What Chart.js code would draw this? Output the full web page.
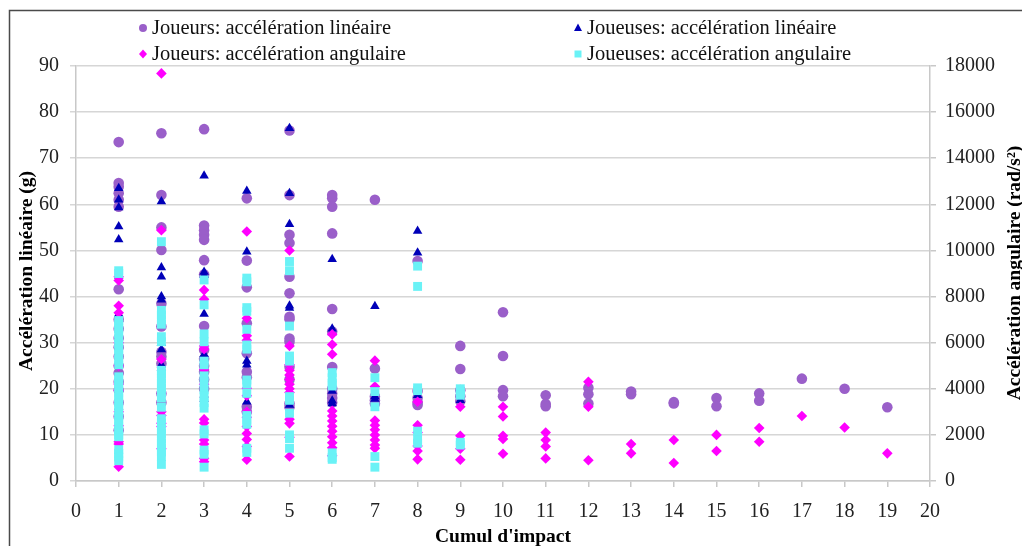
<!DOCTYPE html>
<html>
<head>
<meta charset="utf-8">
<script src="https://cdn.jsdelivr.net/npm/chart.js@4.4.1/dist/chart.umd.min.js"></script>
<style>
  html, body { margin: 0; padding: 0; background: #ffffff; }
  #wrap { position: relative; width: 1022px; height: 546px; }
</style>
</head>
<body>
<div id="wrap"><canvas id="c" width="1022" height="546"></canvas></div>
<script>
// Categories: cumul d'impact (x values), one inner array per category
const cumulImpact = [1, 2, 3, 4, 5, 6, 7, 8, 9, 10, 11, 12, 13, 14, 15, 16, 17, 18, 19];

// Joueurs: accélération linéaire (g)
const joueursLineaire = [
  [73.5, 64.6, 63.8, 62.4, 61, 59.5, 41.6, 35, 33, 31, 29, 27, 25, 23.4, 21.5, 19.7, 17, 14, 11],
  [75.4, 62.0, 55.0, 50.1, 38.5, 33.5, 28, 27, 25.5, 19, 17],
  [76.3, 55.4, 54.4, 53.4, 52.3, 47.9, 44.8, 33.6, 28.4, 26.5, 25.0, 23.7, 22, 20],
  [61.3, 47.8, 42.0, 34.2, 27.7, 23.7, 22.5, 16.1, 15],
  [76.0, 62.0, 53.4, 51.6, 44.3, 40.7, 35.6, 35.1, 30.9, 30.2, 24.8, 22, 16.8, 16],
  [62.0, 61.3, 59.5, 53.7, 37.3, 32.4, 24.7, 20, 19, 18, 17],
  [61.0, 24.4, 18.3, 17.5, 16.8],
  [47.7, 19.5, 18.0, 17.0, 16.5],
  [29.3, 24.3, 19.7, 18.4, 17.3],
  [36.6, 27.1, 19.7, 18.4],
  [18.6, 16.7, 16.2],
  [20.2, 18.8, 16.8],
  [19.4, 18.8],
  [17.1, 16.8],
  [18.0, 16.2],
  [19.0, 17.4],
  [22.2],
  [20.0],
  [16.0]
];

// Joueuses: accélération linéaire (g)
const joueusesLineaire = [
  [63.5, 61.0, 59.3, 55.2, 52.4, 44.5, 36.2, 35.2, 20, 16],
  [60.6, 46.3, 44.3, 40.0, 39.3, 29.9, 28.5, 25.2, 24.5],
  [66.2, 45.3, 44.6, 36.2, 27.5, 18.7, 17.8],
  [62.9, 49.7, 26.0, 25.2, 17.2],
  [76.5, 62.4, 55.7, 38.0, 37.5, 17.2, 16.5],
  [48.1, 33.0, 32.2, 19.5, 17.4, 16.8],
  [37.9, 18.3, 17.8],
  [54.2, 49.5, 18.6],
  [17.5],
  [], [], [], [], [], [], [], [], [], []
];

// Joueurs: accélération angulaire (rad/s²)
const joueursAngulaire = [
  [8860, 8700, 7600, 7300, 6000, 5000, 4200, 3940, 3000, 2400, 1700, 1600, 620],
  [17680, 10880, 5280, 3000, 2840, 2500, 2360, 1400],
  [8280, 7880, 5860, 5720, 4840, 4200, 2680, 2520, 1780, 1600, 980, 840],
  [10820, 7060, 6300, 6100, 4020, 3700, 3000, 2760, 2360, 2060, 1800, 1500, 920],
  [10000, 5860, 5040, 4800, 4600, 4400, 4200, 4000, 3840, 2680, 2500, 1900, 1060],
  [6360, 5920, 5500, 3040, 2820, 2600, 2380, 2160, 1920, 1660, 1440, 1100],
  [5220, 4100, 2620, 2420, 2220, 2000, 1780, 1560, 1420],
  [3440, 2420, 2100, 1520, 1300, 940],
  [3220, 1960, 1400, 920],
  [3220, 2800, 1960, 1820, 1180],
  [2100, 1780, 1500, 980],
  [4300, 3220, 900],
  [1600, 1200],
  [1780, 780],
  [2000, 1300],
  [2300, 1700],
  [2820],
  [2320],
  [1200]
];

// Joueuses: accélération angulaire (rad/s²)
const joueusesAngulaire = [
  [9120, 9000, 6960, 6800, 6600, 6400, 6160, 5960, 5720, 5500, 5260, 5040, 4520, 4360, 4200, 4040, 3800, 3600, 3400, 3200, 3000, 2800, 2600, 2400, 2200, 2000, 1920, 1360, 1200, 1040, 880],
  [10380, 7400, 7200, 7000, 6800, 6260, 6040, 4800, 4640, 4440, 4240, 4040, 3840, 3600, 3200, 2700, 2500, 2240, 2060, 1840, 1640, 1440, 1260, 1060, 720],
  [8720, 7640, 6380, 6040, 5200, 5040, 4560, 4300, 3960, 3680, 3400, 3160, 2220, 2040, 1340, 1160, 600],
  [8800, 8640, 7520, 7360, 6580, 5900, 5720, 4380, 4200, 3800, 2840, 2640, 2460, 1420, 1240],
  [9520, 9120, 6720, 5420, 5200, 3660, 3500, 2940, 2000, 1840, 1420],
  [4700, 4480, 4240, 4120, 1220, 1020, 940],
  [4480, 3880, 3220, 1060, 600],
  [9320, 8440, 4040, 3920, 2160, 1800, 1640],
  [4000, 3840, 3720, 1680, 1560],
  [], [], [], [], [], [], [], [], [], []
];

// Axis tick labels
const leftTicks = [0, 10, 20, 30, 40, 50, 60, 70, 80, 90];
const rightTicks = [0, 2000, 4000, 6000, 8000, 10000, 12000, 14000, 16000, 18000];
const xTicks = [0, 1, 2, 3, 4, 5, 6, 7, 8, 9, 10, 11, 12, 13, 14, 15, 16, 17, 18, 19, 20];

const seriesNames = [
  'Joueurs: accélération linéaire',
  'Joueuses: accélération linéaire',
  'Joueurs: accélération angulaire',
  'Joueuses: accélération angulaire'
];

function toPoints(groups) {
  const pts = [];
  groups.forEach((vals, i) => vals.forEach(v => pts.push({ x: cumulImpact[i], y: v })));
  return pts;
}

const COL_PURPLE = '#9a5fc9';
const COL_BLUE = '#0000b8';
const COL_MAGENTA = '#ff00ff';
const COL_CYAN = '#6af2f6';
const FONT = '"Liberation Serif", "Times New Roman", serif';

const datasets = [
  { label: seriesNames[0], data: toPoints(joueursLineaire), yAxisID: 'y', pointStyle: 'circle', pointRadius: 5.3,
    backgroundColor: COL_PURPLE, borderColor: COL_PURPLE, borderWidth: 0, order: 4 },
  { label: seriesNames[1], data: toPoints(joueusesLineaire), yAxisID: 'y', pointStyle: 'triangle', pointRadius: 5.5,
    backgroundColor: COL_BLUE, borderColor: COL_BLUE, borderWidth: 0, order: 3 },
  { label: seriesNames[2], data: toPoints(joueursAngulaire), yAxisID: 'y2', pointStyle: 'rectRot', pointRadius: 5.3,
    backgroundColor: COL_MAGENTA, borderColor: COL_MAGENTA, borderWidth: 0, order: 2 },
  { label: seriesNames[3], data: toPoints(joueusesAngulaire), yAxisID: 'y2', pointStyle: 'rect', pointRadius: 6.3,
    backgroundColor: COL_CYAN, borderColor: COL_CYAN, borderWidth: 0, order: 1 }
];

function legendMarker(ctx, style, x, y, color) {
  ctx.fillStyle = color;
  ctx.beginPath();
  if (style === 'circle') {
    ctx.arc(x, y, 4, 0, Math.PI * 2);
  } else if (style === 'triangle') {
    ctx.moveTo(x, y - 4.5);
    ctx.lineTo(x + 4, y + 3);
    ctx.lineTo(x - 4, y + 3);
    ctx.closePath();
  } else if (style === 'rectRot') {
    ctx.moveTo(x, y - 4.5);
    ctx.lineTo(x + 4, y);
    ctx.lineTo(x, y + 4.5);
    ctx.lineTo(x - 4, y);
    ctx.closePath();
  } else {
    ctx.rect(x - 3.5, y - 3.5, 7, 7);
  }
  ctx.fill();
}

const decorPlugin = {
  id: 'decor',
  afterDraw(chart) {
    const ctx = chart.ctx;
    ctx.save();
    // outer frame (top and left edges visible)
    ctx.strokeStyle = '#4a4a4a';
    ctx.lineWidth = 1.5;
    ctx.beginPath();
    ctx.moveTo(9.5, 560);
    ctx.lineTo(9.5, 10.5);
    ctx.lineTo(1040, 10.5);
    ctx.stroke();

    // legend
    const items = [
      { x: 143, y: 28, ds: 0 }, { x: 578, y: 28, ds: 1 },
      { x: 143, y: 54, ds: 2 }, { x: 578, y: 54, ds: 3 }
    ];
    ctx.font = '20.5px ' + FONT;
    ctx.textBaseline = 'middle';
    ctx.textAlign = 'left';
    items.forEach(it => {
      const d = datasets[it.ds];
      legendMarker(ctx, d.pointStyle, it.x, it.y, d.backgroundColor);
      ctx.fillStyle = '#111';
      ctx.fillText(d.label, it.x + 9, it.y + 1);
    });

    // axis titles
    ctx.font = 'bold 19.5px ' + FONT;
    ctx.fillStyle = '#000';
    ctx.textAlign = 'center';
    ctx.textBaseline = 'middle';
    ctx.save();
    ctx.translate(27, 271);
    ctx.rotate(-Math.PI / 2);
    ctx.fillText('Accélération linéaire (g)', 0, 0);
    ctx.restore();
    ctx.save();
    ctx.translate(1015, 273);
    ctx.rotate(-Math.PI / 2);
    ctx.fillText('Accélération angulaire (rad/s²)', 0, 0);
    ctx.restore();
    ctx.fillText("Cumul d'impact", 503, 537);
    ctx.restore();
  }
};

const tickFont = { family: FONT, size: 20 };
const gridCol = '#d6d6d6';
const axisCol = '#c8c8c8';
const plainNum = v => String(v);

new Chart(document.getElementById('c'), {
  type: 'scatter',
  data: { datasets },
  options: {
    responsive: false,
    animation: false,
    layout: { padding: { top: 66, left: 0, right: 0, bottom: 0 } },
    plugins: { legend: { display: false }, tooltip: { enabled: false } },
    scales: {
      x: {
        type: 'linear', min: 0, max: 20,
        afterBuildTicks: s => { s.ticks = xTicks.map(v => ({ value: v })); },
        afterFit: s => { s.height = 65; },
        ticks: { font: tickFont, color: '#222', padding: 13, maxRotation: 0, autoSkip: false, callback: plainNum },
        grid: { drawOnChartArea: false, drawTicks: true, tickLength: 6, color: axisCol, lineWidth: 1.5 },
        border: { display: true, color: axisCol, width: 1.5 }
      },
      y: {
        position: 'left', min: 0, max: 90,
        afterBuildTicks: s => { s.ticks = leftTicks.map(v => ({ value: v })); },
        afterFit: s => { s.width = 76; },
        ticks: { font: tickFont, color: '#222', padding: 11, callback: plainNum },
        grid: { color: gridCol, lineWidth: 1.5, tickLength: 6 },
        border: { display: true, color: axisCol, width: 1.5 }
      },
      y2: {
        position: 'right', min: 0, max: 18000,
        afterBuildTicks: s => { s.ticks = rightTicks.map(v => ({ value: v })); },
        afterFit: s => { s.width = 92; },
        ticks: { font: tickFont, color: '#222', padding: 9, callback: plainNum },
        grid: { drawOnChartArea: false, color: axisCol, lineWidth: 1.5, tickLength: 6 },
        border: { display: true, color: axisCol, width: 1.5 }
      }
    }
  },
  plugins: [decorPlugin]
});
</script>
</body>
</html>
